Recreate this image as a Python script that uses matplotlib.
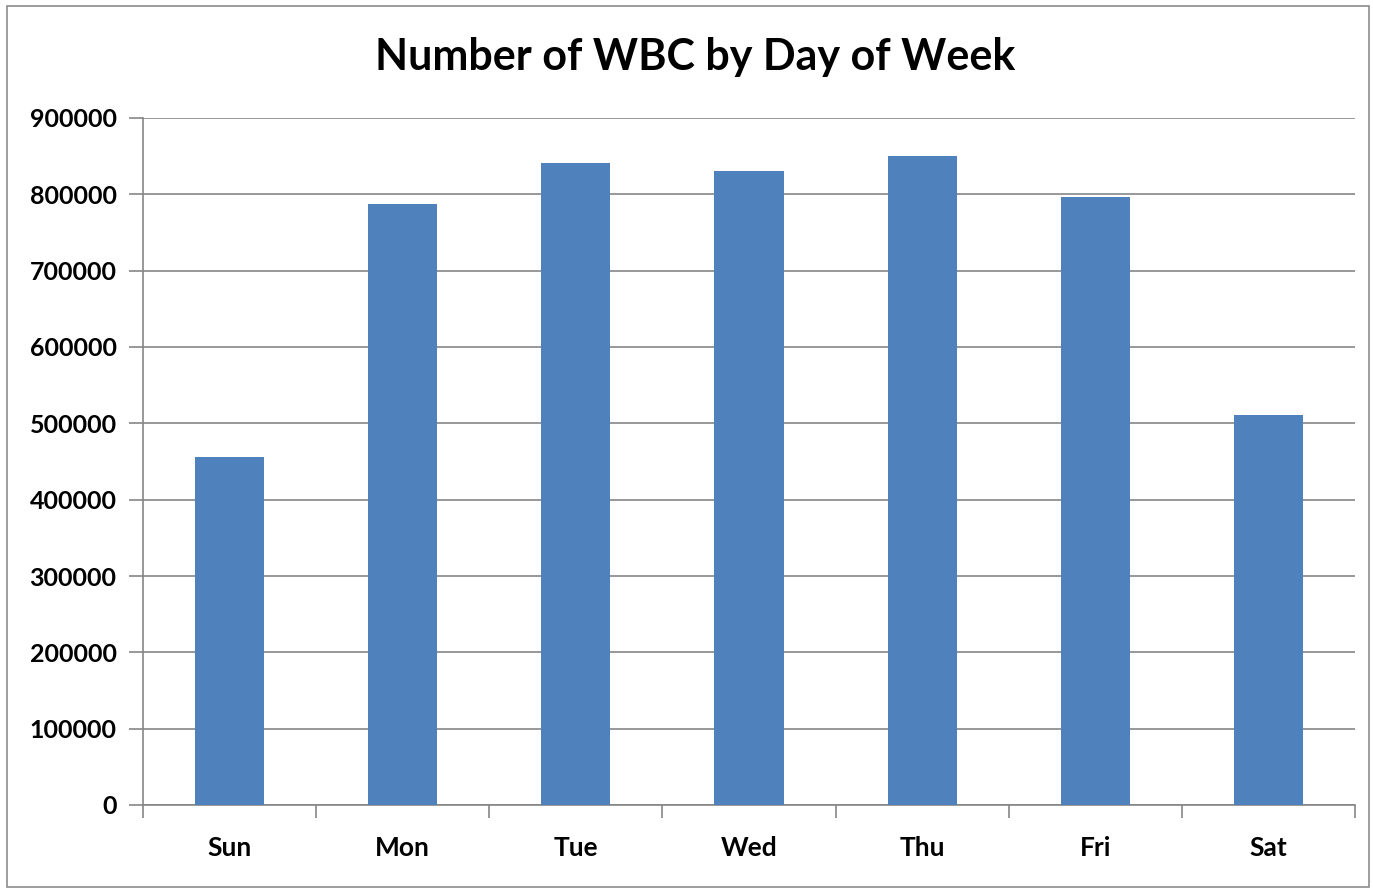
import matplotlib
matplotlib.use("Agg")
import matplotlib.pyplot as plt
from matplotlib.patches import Rectangle

days = ["Sun", "Mon", "Tue", "Wed", "Thu", "Fri", "Sat"]
wbc_counts = [456000, 787000, 841500, 831000, 850200, 796000, 511000]
y_ticks = [0, 100000, 200000, 300000, 400000, 500000, 600000, 700000, 800000, 900000]
title = "Number of WBC by Day of Week"

W, H = 1373, 889
fig = plt.figure(figsize=(W / 100, H / 100), dpi=100)
plt.rcParams['font.family'] = ['Lato', 'DejaVu Sans']

# outer chart border
fig.patches.append(Rectangle((7 / W, 2 / H), (1369 - 7) / W, (883 - 2) / H,
                             transform=fig.transFigure, fill=False,
                             edgecolor="#8c8c8c", linewidth=1.2))

left, right, top, bottom = 143, 1355, 118, 805
ax = fig.add_axes([left / W, 1 - bottom / H, (right - left) / W, (bottom - top) / H])

x = list(range(len(days)))
ax.bar(x, wbc_counts, width=0.4, color="#4F81BD", zorder=3)

ax.set_xlim(-0.5, len(days) - 0.5)
ax.set_ylim(0, 900000)
ax.set_yticks(y_ticks)
ax.set_yticklabels([str(v) for v in y_ticks], fontsize=18, fontweight="bold")
ax.yaxis.grid(True, color="#868686", linewidth=1.2, zorder=0)

ax.set_xticks(x)
ax.set_xticklabels(days, fontsize=19, fontweight="bold")
ax.tick_params(axis="x", length=0, pad=22)
ax.set_xticks([i - 0.5 for i in range(len(days) + 1)], minor=True)
ax.tick_params(axis="x", which="minor", length=9, color="#868686", width=1.2)
ax.tick_params(axis="y", length=10, color="#868686", width=1.2, pad=9)

for s in ["top", "right"]:
    ax.spines[s].set_visible(False)
for s in ["left", "bottom"]:
    ax.spines[s].set_color("#868686")
    ax.spines[s].set_linewidth(1.2)

fig.text(695 / W, 1 - 57 / H, title, ha="center", va="center",
         fontsize=31, fontweight="bold")

fig.savefig("out.png", dpi=100)
